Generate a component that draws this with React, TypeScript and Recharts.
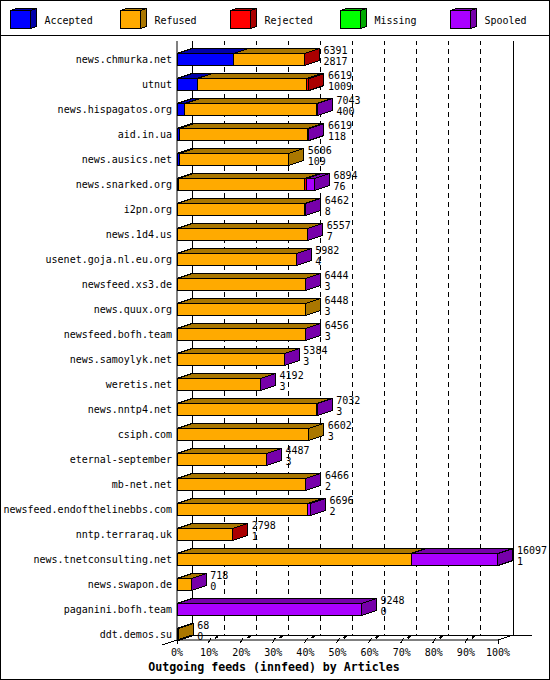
import React from 'react';
import { BarChart, Bar, XAxis, YAxis, CartesianGrid, Legend, LabelList } from 'recharts';

const hosts = ['news.chmurka.net','utnut','news.hispagatos.org','aid.in.ua','news.ausics.net','news.snarked.org','i2pn.org','news.1d4.us','usenet.goja.nl.eu.org','newsfeed.xs3.de','news.quux.org','newsfeed.bofh.team','news.samoylyk.net','weretis.net','news.nntp4.net','csiph.com','eternal-september','mb-net.net','newsfeed.endofthelinebbs.com','nntp.terraraq.uk','news.tnetconsulting.net','news.swapon.de','paganini.bofh.team','ddt.demos.su'];
const totals = [6391,6619,7043,6619,5606,6894,6462,6557,5982,6444,6448,6456,5384,4192,7032,6602,4487,6466,6696,2798,16097,718,9248,68];
const accepted = [2817,1009,400,118,109,76,8,7,4,3,3,3,3,3,3,3,3,2,2,1,1,0,0,0];
const refused = [3566,5510,6593,6431,5497,6323,6394,6544,5972,6435,6445,6447,5375,4183,6989,6599,4478,6458,6544,2791,11735,713,0,68];
const rejected = [8,100,0,60,0,85,0,0,0,0,0,0,0,0,0,0,0,0,0,6,0,0,0,0];
const missing = [0,0,0,0,0,0,0,0,0,0,0,0,0,0,0,0,0,0,0,0,0,0,0,0];
const spooled = [0,0,50,10,0,410,60,6,6,6,0,6,6,6,40,0,6,6,150,0,4361,5,9248,0];

const seriesNames = ['Accepted','Refused','Rejected','Missing','Spooled'];
const seriesFill = ['#0000ff','#ffaa00','#ff0000','#00ff00','#aa00ff'];
const seriesSide = ['#0000aa','#aa7700','#aa0000','#00aa00','#7700aa'];
const seriesValues = [accepted, refused, rejected, missing, spooled];
const percentTicks = [0,10,20,30,40,50,60,70,80,90,100];
const FULL_SCALE = 16098;
const axisTicks = percentTicks.map((p) => (p * FULL_SCALE) / 100);

const rows = hosts.map((host, i) => {
  const row: Record<string, any> = { host };
  seriesNames.forEach((n, s) => { row[n] = seriesValues[s][i]; });
  return row;
});

const MONO = '"DejaVu Sans Mono", monospace';
const W = 550, H = 680, PLOT_LEFT = 177, PLOT_RIGHT = 498, PLOT_TOP = 41, PLOT_BOTTOM = 640;
const DX = 15, DY = 5;

function Box3D(p: any) {
  const { x, y, width, height, fill, side } = p;
  if (!(width > 0)) return null;
  const x2 = x + width, y2 = y + height;
  return (
    <g stroke="#000" strokeWidth={1} shapeRendering="crispEdges">
      <polygon points={`${x},${y} ${x + DX},${y - DY} ${x2 + DX},${y - DY} ${x2},${y}`} fill={side} />
      <polygon points={`${x2},${y} ${x2 + DX},${y - DY} ${x2 + DX},${y2 - DY} ${x2},${y2}`} fill={side} />
      <rect x={x} y={y} width={width} height={height} fill={fill} />
    </g>
  );
}

function EndLabel(p: any) {
  const vb = p.viewBox ?? p;
  const ex = vb.x + vb.width;
  const cy = vb.y + vb.height / 2;
  const i = p.index;
  return (
    <g fontFamily={MONO} fontSize={10} fill="#000">
      <text x={ex + 19} y={cy - 6}>{totals[i]}</text>
      <text x={ex + 19} y={cy + 5}>{accepted[i]}</text>
    </g>
  );
}

function GridLine(p: any) {
  const { x1, y1, y2 } = p;
  const edge = Math.abs(x1 - PLOT_LEFT) < 1 || Math.abs(x1 - PLOT_RIGHT) < 1;
  return (
    <line key={p.key} x1={x1 + DX} x2={x1 + DX} y1={y1} y2={y2 - DY} stroke="#000" strokeWidth={1}
      strokeDasharray={edge ? undefined : '5 4'} strokeDashoffset={edge ? undefined : 1} shapeRendering="crispEdges" />
  );
}

function XTick(p: any) {
  const { x, payload, index } = p;
  const pct = Math.round((payload.value / FULL_SCALE) * 100);
  const y0 = PLOT_BOTTOM;
  const inner = pct > 0 && pct < 100;
  return (
    <g>
      {index === 0 && (
        <>
          <line x1={x - DX} y1={y0 + DY} x2={x + DX} y2={y0 - DY} stroke="#000" shapeRendering="crispEdges" />
          <line x1={x + DX} y1={y0 - DY} x2={PLOT_RIGHT + 34} y2={y0 - DY} stroke="#000" shapeRendering="crispEdges" />
        </>
      )}
      {pct === 100 && <line x1={x} y1={y0} x2={x + DX} y2={y0 - DY} stroke="#000" shapeRendering="crispEdges" />}
      {inner ? (
        <>
          <line x1={x - 1} y1={y0 + 3} x2={x + 2} y2={y0 - 2} stroke="#000" shapeRendering="crispEdges" />
          <line x1={x + 6} y1={y0 - 2} x2={x + 9} y2={y0 - 4} stroke="#000" strokeWidth={2} shapeRendering="crispEdges" />
        </>
      ) : (
        <line x1={x} y1={y0} x2={x} y2={y0 + 4} stroke="#000" shapeRendering="crispEdges" />
      )}
      <text x={x} y={y0 + 16} textAnchor="middle" fontFamily={MONO} fontSize={10} fill="#000">{pct}%</text>
    </g>
  );
}

function TitleLabel() {
  return (
    <text x={W / 2 - 1} y={671} textAnchor="middle" fontFamily={MONO} fontSize={11.6} fontWeight="bold" fill="#000">
      Outgoing feeds (innfeed) by Articles
    </text>
  );
}

function LegendBox(p: any) {
  const payload = p.payload ?? [];
  const ordered = seriesNames.map((n) => payload.find((e: any) => e.value === n)).filter(Boolean);
  return (
    <svg width={W} height={36} style={{ display: 'block' }}>
      {ordered.map((e: any, i: number) => {
        const x = 10.5 + i * 110, y = 10.5, w = 20, h = 18, dx = 6, dy = 2;
        const s = seriesNames.indexOf(e.value);
        return (
          <g key={e.value} stroke="#000" shapeRendering="crispEdges">
            <polygon points={`${x},${y} ${x + dx},${y - dy} ${x + w + dx},${y - dy} ${x + w},${y}`} fill={seriesSide[s]} />
            <polygon points={`${x + w},${y} ${x + w + dx},${y - dy} ${x + w + dx},${y + h - dy} ${x + w},${y + h}`} fill={seriesSide[s]} />
            <rect x={x} y={y} width={w} height={h} fill={e.color} />
            <text x={x + 34} y={24} stroke="none" fontFamily={MONO} fontSize={10} fill="#000">{e.value}</text>
          </g>
        );
      })}
      <line x1={0} x2={W} y1={35.5} y2={35.5} stroke="#000" />
    </svg>
  );
}

export default function App() {
  return (
    <div style={{ position: 'absolute', left: 0, top: 0, width: W, height: H, background: '#fff', outline: '1px solid #000', outlineOffset: -1 }}>
      <BarChart width={W} height={H} data={rows} layout="vertical" barCategoryGap={0} barSize={12}
        margin={{ top: PLOT_TOP - 36, right: W - PLOT_RIGHT, bottom: 0, left: 0 }}>
        <Legend verticalAlign="top" height={36} content={LegendBox} wrapperStyle={{ left: 0, top: 0, width: W, height: 36, margin: 0 }} />
        <CartesianGrid horizontal={false} vertical={GridLine as any} />
        <XAxis type="number" domain={[0, FULL_SCALE]} ticks={axisTicks} interval={0} height={40}
          tick={XTick as any} tickLine={false} axisLine={{ stroke: '#000' }}
          label={{ content: TitleLabel as any }} />
        <YAxis type="category" dataKey="host" width={PLOT_LEFT} interval={0} tickSize={0} tickMargin={5}
          padding={{ top: 5.5, bottom: -6.5 }}
          tick={{ fontFamily: MONO, fontSize: 10, fill: '#000' }} tickLine={false} axisLine={{ stroke: '#000' }} />
        {seriesNames.map((n, s) => (
          <Bar key={n} dataKey={n} name={n} stackId="feeds" fill={seriesFill[s]} isAnimationActive={false}
            shape={(p: any) => <Box3D {...p} side={seriesSide[s]} />}>
            {n === 'Spooled' && <LabelList dataKey="Spooled" content={EndLabel as any} />}
          </Bar>
        ))}
      </BarChart>
    </div>
  );
}
